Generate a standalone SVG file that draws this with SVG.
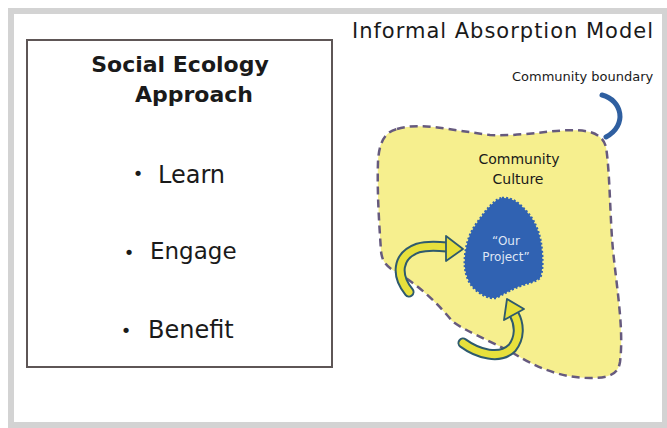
<svg xmlns="http://www.w3.org/2000/svg" width="667" height="428" viewBox="0 0 667 428">
<style>
.t{font-family:"DejaVu Sans","Liberation Sans",sans-serif;fill:#1a1a1a}
.b{font-family:"DejaVu Sans","Liberation Sans",sans-serif;fill:#1a1a1a;font-size:18px;text-anchor:middle}
.arrOut{fill:none;stroke:#2e5a6e;stroke-width:11;stroke-linecap:round}
.arrIn{fill:none;stroke:#e7e03c;stroke-width:7;stroke-linecap:round}
.head{fill:#e7e03c;stroke:#2e5a6e;stroke-width:1.8;stroke-linejoin:round}
</style>
<rect x="0" y="0" width="667" height="428" fill="#ffffff"/>
<rect id="frame" x="11" y="11" width="654" height="414" fill="#ffffff" stroke="#d3d3d3" stroke-width="6"/>

<g id="social-ecology">
  <rect x="27" y="40" width="305" height="327" fill="#ffffff" stroke="#5e5656" stroke-width="2"/>
  <text class="t" x="180" y="72" font-size="22" font-weight="bold" text-anchor="middle">Social Ecology</text>
  <text class="t" x="194" y="102" font-size="22" font-weight="bold" text-anchor="middle">Approach</text>
  <text class="b" x="138" y="180">•</text>
  <text class="t" x="158" y="183" font-size="24">Learn</text>
  <text class="b" x="129" y="259">•</text>
  <text class="t" x="150" y="259" font-size="23">Engage</text>
  <text class="b" x="126" y="337">•</text>
  <text class="t" x="148" y="338" font-size="24">Benefit</text>
</g>

<g id="title">
  <text class="t" x="352" y="38" font-size="21" textLength="301" lengthAdjust="spacing">Informal Absorption Model</text>
</g>

<g id="community-boundary-label">
  <text class="t" x="512" y="81" font-size="13">Community boundary</text>
</g>

<g id="community-culture">
  <path d="M397,129 C420,122 450,130 490,135 C530,137 565,126 590,132 C600,135 604,140 606,147 C610,172 610,220 613,250 C617,290 624,330 620,362 C618,374 610,378 590,378 C565,378 540,370 513,353 C490,341 465,331 452,321 C440,306 420,286 398,273 C386,267 382,261 381,251 C379,221 377,191 378,162 C379,142 385,132 397,129 Z" fill="#f6ef8e" stroke="#665a7e" stroke-width="2.5" stroke-dasharray="8 5"/>
  <text class="t" x="519" y="164" font-size="14" text-anchor="middle">Community</text>
  <text class="t" x="518" y="184" font-size="14" text-anchor="middle">Culture</text>
</g>

<g id="our-project">
  <path d="M502,198 C512,197 520,204 527,212 C536,222 541,236 542,253 C543,265 542,273 540,278 C535,282 528,283 520,286 C512,289 505,293 496,298 C488,299 478,293 472,286 C466,278 464,268 465,257 C466,244 470,232 477,223 C485,212 493,200 502,198 Z" fill="#3062b2" stroke="#3062b2" stroke-width="2.5" stroke-dasharray="2 2"/>
  <text x="506" y="245" font-size="12" text-anchor="middle" font-family="DejaVu Sans, sans-serif" fill="#dfe6f5">“Our</text>
  <text x="506" y="261" font-size="12" text-anchor="middle" font-family="DejaVu Sans, sans-serif" fill="#dfe6f5">Project”</text>
</g>

<g id="connectors">
  <path d="M602,95 C622,100 628,125 606,137" fill="none" stroke="#2f5fa0" stroke-width="5" stroke-linecap="round"/>
  <path class="arrOut" d="M409,292 C396,276 396,256 418,248 C428,245 438,246 447,247"/>
  <path class="arrIn" d="M409,292 C396,276 396,256 418,248 C428,245 438,246 447,247"/>
  <polygon class="head" points="446,236 463,249 446,261"/>
  <path class="arrOut" d="M463,343 C478,354 500,360 512,348 C520,338 520,325 514,314"/>
  <path class="arrIn" d="M463,343 C478,354 500,360 512,348 C520,338 520,325 514,314"/>
  <polygon class="head" points="504,320 507,299 524,309"/>
</g>
</svg>
